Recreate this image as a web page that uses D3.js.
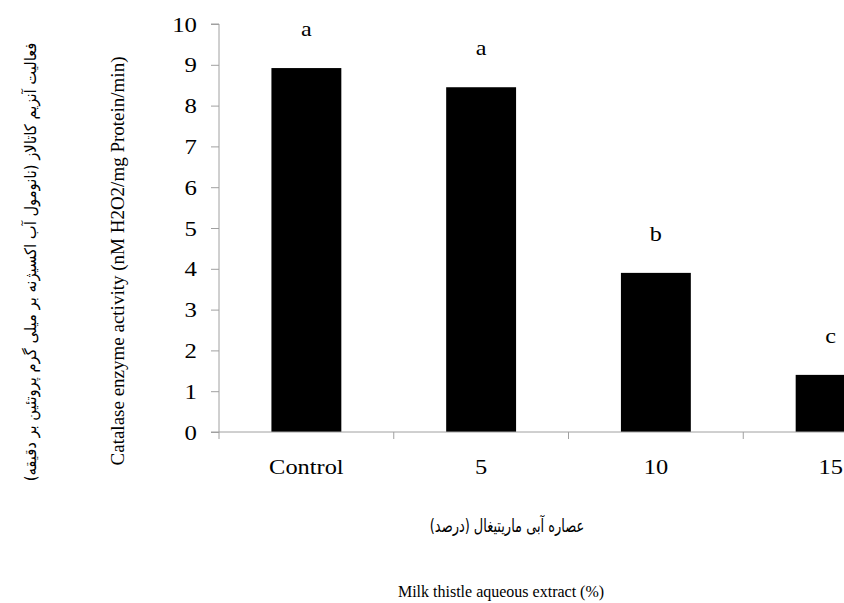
<!DOCTYPE html>
<html><head><meta charset="utf-8">
<script src="https://cdn.jsdelivr.net/npm/d3@7"></script>
<style>body{margin:0;background:#fff}svg{display:block}</style>
</head><body>
<script>
const categories = ["Control", "5", "10", "15"];
const values = [8.92, 8.45, 3.9, 1.4];
const letters = ["a", "a", "b", "c"];
const yTicks = [0,1,2,3,4,5,6,7,8,9,10];

const W = 844, H = 603;
const svg = d3.select("body").append("svg").attr("width", W).attr("height", H);
const serif = "Liberation Serif, Times New Roman, serif";

const x = d3.scaleBand().domain(categories).range([219, 918]).paddingInner(0.6).paddingOuter(0.3);
const y = d3.scaleLinear().domain([0, 10]).range([432, 24]);

// bars
svg.selectAll("rect.bar").data(values).join("rect")
  .attr("x", (d,i) => x(categories[i]))
  .attr("y", d => y(d))
  .attr("width", x.bandwidth())
  .attr("height", d => y(0) - y(d))
  .attr("fill", "#000");

// letters
svg.selectAll("text.let").data(values).join("text")
  .attr("transform", (d,i) => `translate(${x(categories[i]) + x.bandwidth()/2},${y(d) - 32}) scale(1.1,1)`)
  .attr("text-anchor", "middle")
  .style("font-family", serif).style("font-size", "22px")
  .text((d,i) => letters[i]);

// y axis
const yAxis = svg.append("g").attr("transform", "translate(219,0)")
  .call(d3.axisLeft(y).tickValues(yTicks).tickSize(8).tickPadding(14).tickFormat(d3.format("d")));
yAxis.select(".domain").attr("stroke", "#a0a0a0").attr("d", `M-8,${y(10)}H0V${y(0)}`);
yAxis.selectAll(".tick line").attr("stroke", "#a0a0a0");
yAxis.selectAll(".tick text").attr("x", null).attr("dy", null)
  .attr("transform", "translate(-22,7) scale(1.18,1)")
  .style("font-family", serif).style("font-size", "21px").attr("fill", "#000");

// x axis line
const xs = d3.scaleLinear().domain([0, 4]).range([219, 918]);
svg.append("line").attr("x1", 211).attr("x2", W).attr("y1", y(0)).attr("y2", y(0)).attr("stroke", "#a0a0a0");
svg.selectAll("line.xt").data([0,1,2,3,4]).join("line")
  .attr("x1", d => xs(d)).attr("x2", d => xs(d))
  .attr("y1", y(0)).attr("y2", y(0) + 7).attr("stroke", "#a0a0a0");
svg.selectAll("text.cat").data(categories).join("text")
  .attr("transform", d => `translate(${x(d) + x.bandwidth()/2},474) scale(1.22,1)`)
  .attr("text-anchor", "middle")
  .style("font-family", serif).style("font-size", "20px")
  .text(d => d);

// axis titles
svg.append("text").attr("transform", "translate(507,532) scale(0.72,1)").attr("text-anchor", "middle")
  .style("font-family", "DejaVu Sans, sans-serif").style("font-size", "18px").attr("direction", "rtl")
  .text("عصاره آبی ماریتیغال (درصد)");
svg.append("text").attr("transform", "translate(501,597)").attr("text-anchor", "middle")
  .style("font-family", serif).style("font-size", "16px")
  .text("Milk thistle aqueous extract (%)");

svg.append("text").attr("transform", "translate(124,261) rotate(-90)").attr("text-anchor", "middle")
  .style("font-family", serif).style("font-size", "19px")
  .text("Catalase enzyme activity (nM H2O2/mg Protein/min)");
svg.append("text").attr("transform", "translate(36,262) rotate(-90) scale(0.92,1)").attr("text-anchor", "middle")
  .style("font-family", "DejaVu Sans, sans-serif").style("font-size", "16px").attr("direction", "rtl")
  .text("فعالیت آنزیم کاتالاز (نانومول آب اکسیژنه بر میلی گرم پروتئین بر دقیقه)");
</script>
</body></html>
